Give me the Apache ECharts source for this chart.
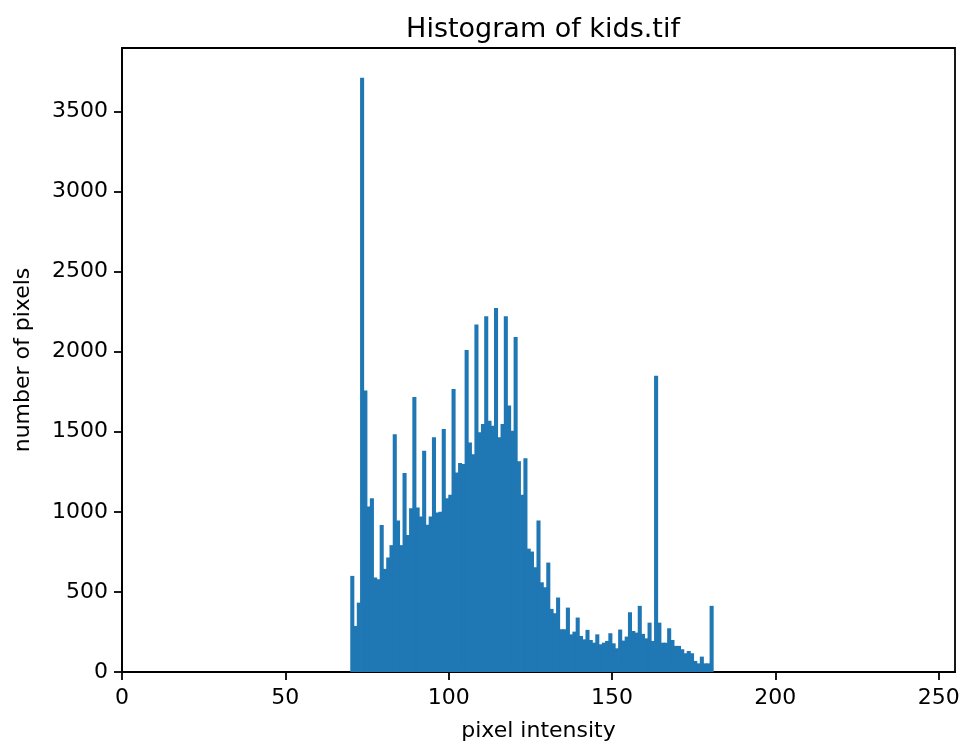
<!DOCTYPE html>
<html>
<head>
<meta charset="utf-8">
<title>Histogram of kids.tif</title>
<script src="https://cdn.jsdelivr.net/npm/echarts@6/dist/echarts.min.js"></script>
<style>
    html, body {
        margin: 0;
        padding: 0;
        background: #fff;
    }

    #chart {
        width: 964px;
        height: 745px;
    }
</style>
</head>
<body>
<div id="chart"></div>
<script>
    // one bin per grey level, counts start at intensity 70
    const firstBin = 70;
    const counts = [
        600, 287, 433, 3710, 1758, 1033, 1085, 590, 579, 917,
        644, 715, 792, 1485, 946, 792, 1242, 856, 1023, 1717,
        1027, 971, 1381, 919, 971, 1465, 995, 1000, 1517, 1085,
        1106, 1767, 1246, 1304, 1298, 2010, 1433, 1360, 2169, 1496,
        1548, 2221, 1569, 1538, 2273, 1465, 1548, 2221, 1663, 1506,
        2092, 1315, 1106, 1335, 770, 752, 654, 946, 560, 529,
        683, 394, 367, 465, 267, 267, 402, 235, 252, 340,
        225, 204, 263, 200, 183, 235, 173, 183, 194, 242,
        179, 148, 265, 196, 221, 373, 256, 246, 413, 238,
        210, 308, 194, 1850, 308, 183, 183, 273, 200, 163,
        163, 142, 117, 131, 117, 69, 54, 96, 54, 54,
        413
    ];
    const xTicks = [0, 50, 100, 150, 200, 250];
    const yTicks = [0, 500, 1000, 1500, 2000, 2500, 3000, 3500];

    const font = 'DejaVu Sans';
    const barColor = '#1f77b4';

    let chart = echarts.init(document.getElementById('chart'));

    let bins = counts.map(function (c, i) {
        return [firstBin + i, c];
    });

    // matplotlib style bar: left edge at the bin value, one unit wide
    function renderBin(params, api) {
        let x = api.value(0);
        let top = api.coord([x, api.value(1)]);
        let base = api.coord([x + 1, 0]);
        return {
            type: 'rect',
            shape: {
                x: top[0] - 0.4,
                y: top[1],
                width: base[0] - top[0] + 0.8,
                height: base[1] - top[1]
            },
            style: {
                fill: barColor
            }
        };
    }

    function plainNumber(v) {
        return String(v);
    }

    let axisLine = {show: true, lineStyle: {color: '#000', width: 1.8}};
    let axisTick = {show: true, inside: false, length: 8, lineStyle: {color: '#000', width: 1.8}};

    let option = {
        animation: false,
        backgroundColor: '#fff',
        title: {
            text: 'Histogram of kids.tif',
            left: 538,
            top: 11,
            textAlign: 'center',
            textStyle: {
                fontFamily: font,
                fontSize: 27,
                fontWeight: 'normal',
                color: '#000'
            }
        },
        grid: {
            left: 122,
            right: 9,
            top: 48,
            bottom: 73,
            show: true,
            borderColor: '#000',
            borderWidth: 1.8,
            containLabel: false,
            outerBoundsMode: 'none'
        },
        xAxis: {
            type: 'value',
            min: 0,
            max: 255,
            name: 'pixel intensity',
            nameLocation: 'middle',
            nameGap: 48,
            nameTextStyle: {fontFamily: font, fontSize: 22, color: '#000'},
            axisLine: axisLine,
            axisTick: Object.assign({customValues: xTicks}, axisTick),
            axisLabel: {
                customValues: xTicks,
                formatter: plainNumber,
                margin: 15,
                fontFamily: font,
                fontSize: 22,
                color: '#000'
            },
            splitLine: {show: false}
        },
        yAxis: {
            type: 'value',
            min: 0,
            max: Math.max.apply(null, counts) * 1.05,
            name: 'number of pixels',
            nameLocation: 'middle',
            nameGap: 88,
            nameTextStyle: {fontFamily: font, fontSize: 22, color: '#000'},
            axisLine: axisLine,
            axisTick: Object.assign({customValues: yTicks}, axisTick),
            axisLabel: {
                customValues: yTicks,
                formatter: plainNumber,
                margin: 14,
                fontFamily: font,
                fontSize: 22,
                color: '#000'
            },
            splitLine: {show: false}
        },
        series: [{
            type: 'custom',
            renderItem: renderBin,
            encode: {x: 0, y: 1},
            clip: true,
            data: bins
        }]
    };

    chart.setOption(option);
</script>
</body>
</html>
